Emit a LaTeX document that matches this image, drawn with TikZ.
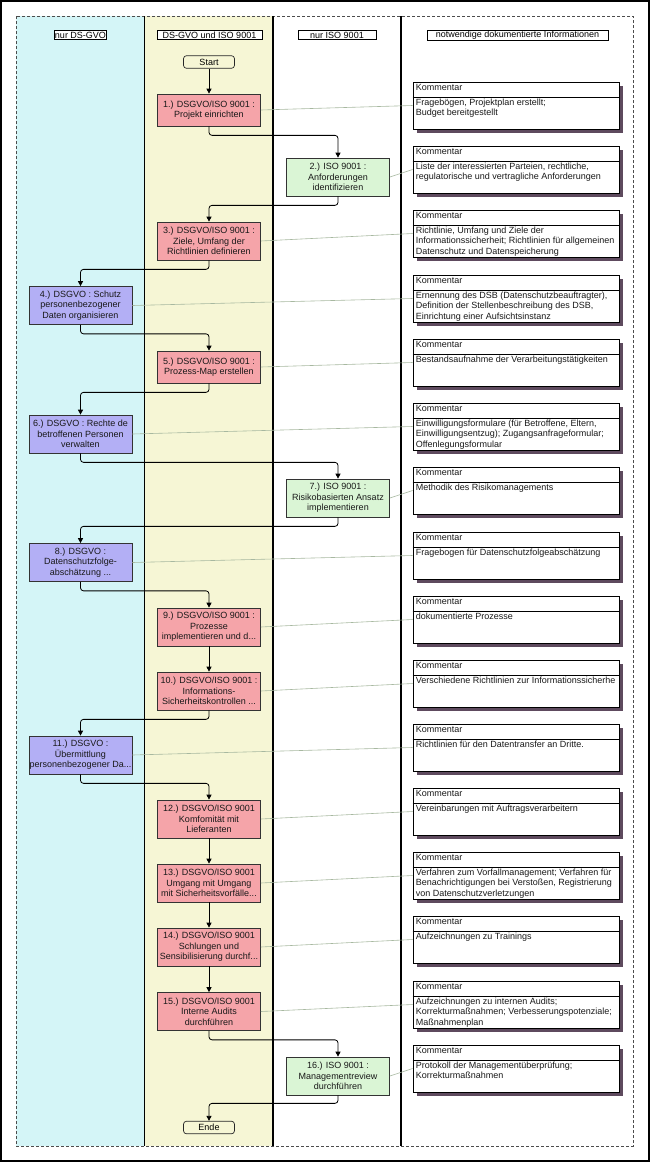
\documentclass[tikz,border=0pt]{standalone}
\usepackage{fontspec}
\setmainfont{Liberation Sans}
\usetikzlibrary{arrows.meta,shadows}
\definecolor{laneA}{HTML}{D4F5F7}
\definecolor{laneB}{HTML}{F6F6D5}
\definecolor{procpink}{HTML}{F5A4A9}
\definecolor{procgreen}{HTML}{DAF5D5}
\definecolor{procpurple}{HTML}{B3AFF5}
\definecolor{shadowc}{HTML}{5E4A5E}
\definecolor{linkc}{HTML}{A7B8A0}
\newcommand\kbox[3]{%
  \node[cbox] (#1) at (516,{#2+23.5}) {};
  \draw[sepline] ([yshift=-15.7pt]#1.north west) -- ([yshift=-15.7pt]#1.north east);
  \node[ktext] (#1t) at ([xshift=3pt,yshift=-2.4pt]#1.north west) {Kommentar};
  \node[ktext] (#1b) at ([xshift=3pt,yshift=-17pt]#1.north west) {#3};
}
\begin{document}
\begin{tikzpicture}[x=1pt,y=-1pt,
  font=\fontsize{9}{10.6}\selectfont,
  proc/.style={draw=black!80, line width=0.7pt, minimum width=103pt, minimum height=38pt, inner sep=0pt, align=center, text=black!90},
  pinkbox/.style={proc, fill=procpink},
  greenbox/.style={proc, fill=procgreen},
  purplebox/.style={proc, fill=procpurple},
  shortbox/.style={minimum height=32pt},
  term/.style={draw=black!85, line width=0.7pt, rounded corners=3pt, minimum width=51pt, minimum height=12.6pt, inner sep=0pt},
  cbox/.style={draw=black, line width=0.7pt, fill=white, minimum width=206pt, minimum height=47pt, inner sep=0pt,
    drop shadow={shadow xshift=3.5pt, shadow yshift=-3.5pt, fill=shadowc, opacity=1}},
  sepline/.style={draw=black, line width=1.1pt},
  ktext/.style={anchor=north west, inner sep=0pt, align=left, text=black!90},
  hdr/.style={draw=black, line width=0.6pt, fill=white, inner sep=0.5pt, minimum height=9pt},
  conn/.style={draw=black, line width=0.8pt, rounded corners=3pt, -{Triangle[length=5pt,width=5pt]}},
  link/.style={draw=linkc, line width=0.6pt}
]
\useasboundingbox (0,0) rectangle (650,1162);
% outer frame
\draw[line width=2pt] (1,1) rectangle (649,1161);
% lanes
\fill[laneA] (16,16) rectangle (144.5,1146);
\fill[laneB] (144.5,16) rectangle (273,1146);
\draw[black!70, line width=0.8pt, densely dashed] (16,16) rectangle (633,1146);
\foreach \lx in {144.5,273,401} \draw[line width=1.5pt] (\lx,16) -- (\lx,1146);
% headers
\node[hdr, minimum width=52pt] (h1) at (80.5,35.2) {nur DS-GVO};
\node[hdr, minimum width=105pt] (h2) at (209.5,35.2) {DS-GVO und ISO 9001};
\node[hdr, minimum width=78pt] (h3) at (337,35.2) {nur ISO 9001};
\node[hdr, minimum width=181pt] (h4) at (517.5,35.2) {notwendige dokumentierte Informationen};
% terminals
\node[term] (start) at (209,62) {Start};
\node[term] (ende) at (209,1127.5) {Ende};
% process boxes
\node[pinkbox, shortbox] (p1) at (209,110) {1.) DSGVO/ISO 9001 :\\Projekt einrichten};
\node[greenbox] (p2) at (338,177) {2.) ISO 9001 :\\Anforderungen\\identifizieren};
\node[pinkbox] (p3) at (209,241) {3.) DSGVO/ISO 9001 :\\Ziele, Umfang der\\Richtlinien definieren};
\node[purplebox] (p4) at (80.5,305.5) {4.) DSGVO : Schutz\\personenbezogener\\Daten organisieren};
\node[pinkbox, shortbox] (p5) at (209,367) {5.) DSGVO/ISO 9001 :\\Prozess-Map erstellen};
\node[purplebox] (p6) at (80.5,434) {6.) DSGVO : Rechte de\\betroffenen Personen\\verwalten};
\node[greenbox] (p7) at (338,498) {7.) ISO 9001 :\\Risikobasierten Ansatz\\implementieren};
\node[purplebox] (p8) at (80.5,562.5) {8.) DSGVO :\\Datenschutzfolge-\\abschätzung ...};
\node[pinkbox] (p9) at (209,627) {9.) DSGVO/ISO 9001 :\\Prozesse\\implementieren und d...};
\node[pinkbox] (p10) at (209,691) {10.) DSGVO/ISO 9001 :\\Informations-\\Sicherheitskontrollen ...};
\node[purplebox] (p11) at (80.5,755) {11.) DSGVO :\\Übermittlung\\personenbezogener Da...};
\node[pinkbox] (p12) at (209,819) {12.) DSGVO/ISO 9001\\Komfomität mit\\Lieferanten};
\node[pinkbox] (p13) at (209,883) {13.) DSGVO/ISO 9001\\Umgang mit Umgang\\mit Sicherheitsvorfälle...};
\node[pinkbox] (p14) at (209,947) {14.) DSGVO/ISO 9001\\Schlungen und\\Sensibilisierung durchf...};
\node[pinkbox] (p15) at (209,1011.5) {15.) DSGVO/ISO 9001\\Interne Audits\\durchführen};
\node[greenbox] (p16) at (338,1076) {16.) ISO 9001 :\\Managementreview\\durchführen};
% comment boxes
\kbox{c1}{82}{Fragebögen, Projektplan erstellt;\\Budget bereitgestellt}
\kbox{c2}{146}{Liste der interessierten Parteien, rechtliche,\\regulatorische und vertragliche Anforderungen}
\kbox{c3}{210}{Richtlinie, Umfang und Ziele der\\Informationssicherheit; Richtlinien für allgemeinen\\Datenschutz und Datenspeicherung}
\kbox{c4}{275}{Ernennung des DSB (Datenschutzbeauftragter),\\Definition der Stellenbeschreibung des DSB,\\Einrichtung einer Aufsichtsinstanz}
\kbox{c5}{339}{Bestandsaufnahme der Verarbeitungstätigkeiten}
\kbox{c6}{403}{Einwilligungsformulare (für Betroffene, Eltern,\\Einwilligungsentzug); Zugangsanfrageformular;\\Offenlegungsformular}
\kbox{c7}{467}{Methodik des Risikomanagements}
\kbox{c8}{532}{Fragebogen für Datenschutzfolgeabschätzung}
\kbox{c9}{596}{dokumentierte Prozesse}
\kbox{c10}{660}{Verschiedene Richtlinien zur Informationssicherhe}
\kbox{c11}{724}{Richtlinien für den Datentransfer an Dritte.}
\kbox{c12}{788}{Vereinbarungen mit Auftragsverarbeitern}
\kbox{c13}{852}{Verfahren zum Vorfallmanagement; Verfahren für\\Benachrichtigungen bei Verstoßen, Registrierung\\von Datenschutzverletzungen}
\kbox{c14}{916}{Aufzeichnungen zu Trainings}
\kbox{c15}{981}{Aufzeichnungen zu internen Audits;\\Korrekturmaßnahmen; Verbesserungspotenziale;\\Maßnahmenplan}
\kbox{c16}{1045}{Protokoll der Managementüberprüfung;\\Korrekturmaßnahmen}
% links to comments
\foreach \i in {1,...,16} \draw[link] (p\i.east) -- (c\i.west);
% flow connectors
\draw[conn] (start.south) -- (p1.north);
\draw[conn] (p1.south) -- ++(0,9) -| (p2.north);
\draw[conn] (p2.south) -- ++(0,9) -| (p3.north);
\draw[conn] (p3.south) -- ++(0,9) -| (p4.north);
\draw[conn] (p4.south) -- ++(0,9) -| (p5.north);
\draw[conn] (p5.south) -- ++(0,9) -| (p6.north);
\draw[conn] (p6.south) -- ++(0,9) -| (p7.north);
\draw[conn] (p7.south) -- ++(0,9) -| (p8.north);
\draw[conn] (p8.south) -- ++(0,9) -| (p9.north);
\draw[conn] (p9.south) -- (p10.north);
\draw[conn] (p10.south) -- ++(0,9) -| (p11.north);
\draw[conn] (p11.south) -- ++(0,9) -| (p12.north);
\draw[conn] (p12.south) -- (p13.north);
\draw[conn] (p13.south) -- (p14.north);
\draw[conn] (p14.south) -- (p15.north);
\draw[conn] (p15.south) -- ++(0,9) -| (p16.north);
\draw[conn] (p16.south) -- ++(0,8) -| (ende.north);
\end{tikzpicture}
\end{document}
